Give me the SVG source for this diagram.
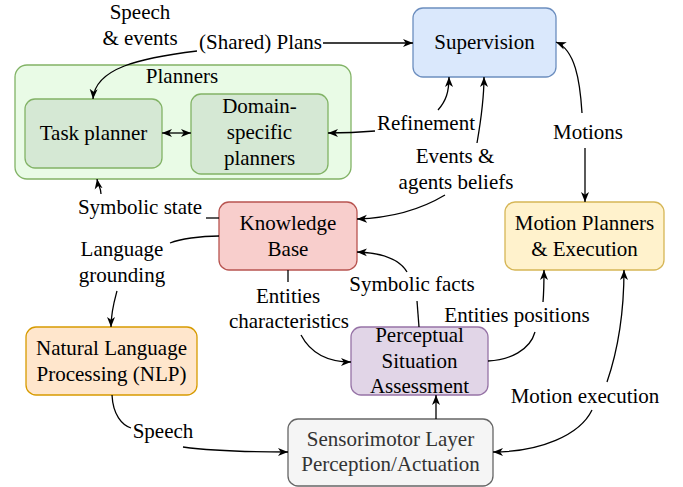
<svg xmlns="http://www.w3.org/2000/svg" width="683" height="487" viewBox="0 0 683 487">
<style>
text{font-family:"Liberation Serif",serif;font-size:21px;fill:#000;text-anchor:middle}
.e{fill:none;stroke:#000;stroke-width:1.3}
.a{marker-end:url(#ar)}
.b{marker-start:url(#ar);marker-end:url(#ar)}
.n{stroke-width:1.3}
</style>
<defs>
<marker id="ar" markerUnits="userSpaceOnUse" markerWidth="11" markerHeight="9" refX="10" refY="4.5" orient="auto-start-reverse" viewBox="0 0 11 9">
<path d="M0,0.5 L10,4.5 L0,8.5 L2.8,4.5 Z" fill="#000"/>
</marker>
</defs>
<rect width="683" height="487" fill="#fff"/>
<g id="planners">
<rect class="n" x="15" y="65" width="336" height="114" rx="12" fill="#e9fbe6" stroke="#82b366"/>
<text x="182" y="83">Planners</text>
</g>
<g id="task-planner">
<rect class="n" x="25" y="99" width="137" height="69" rx="10" fill="#d5e8d4" stroke="#82b366"/>
<text x="93.5" y="140">Task planner</text>
</g>
<g id="domain-planners">
<rect class="n" x="191" y="94" width="137" height="80" rx="10" fill="#d5e8d4" stroke="#82b366"/>
<text x="259.5" y="113">Domain-</text>
<text x="259.5" y="139">specific</text>
<text x="259.5" y="165">planners</text>
</g>
<g id="supervision">
<rect class="n" x="413" y="8" width="143" height="69" rx="10" fill="#dae8fc" stroke="#6c8ebf"/>
<text x="484.5" y="49">Supervision</text>
</g>
<g id="knowledge-base">
<rect class="n" x="219" y="202" width="138" height="68" rx="10" fill="#f8cecc" stroke="#b85450"/>
<text x="288" y="230">Knowledge</text>
<text x="288" y="256">Base</text>
</g>
<g id="motion-planners">
<rect class="n" x="505" y="202" width="159" height="68" rx="10" fill="#fff2cc" stroke="#d6b656"/>
<text x="584.5" y="230">Motion Planners</text>
<text x="584.5" y="256">&amp; Execution</text>
</g>
<g id="nlp">
<rect class="n" x="26" y="327" width="171" height="68" rx="10" fill="#ffe6cc" stroke="#d79b00"/>
<text x="111.5" y="355">Natural Language</text>
<text x="111.5" y="381">Processing (NLP)</text>
</g>
<g id="psa">
<rect class="n" x="351" y="327" width="137" height="68" rx="10" fill="#e1d5e7" stroke="#9673a6"/>
<text x="419.5" y="342">Perceptual</text>
<text x="419.5" y="368">Situation</text>
<text x="419.5" y="393">Assessment</text>
</g>
<g id="sensorimotor">
<rect class="n" x="288" y="419" width="205" height="67" rx="10" fill="#f5f5f5" stroke="#666666"/>
<text x="390.5" y="446" style="fill:#333">Sensorimotor Layer</text>
<text x="390.5" y="471" style="fill:#333">Perception/Actuation</text>
</g>
<g id="connectors">
<path class="e a" d="M323,43 L413,43"/>
<path class="e a" d="M197,51 C140,58 95,68 93,99"/>
<path class="e b" d="M162,133 L191,133"/>
<path class="e a" d="M375,131 Q352,133 328,133"/>
<path class="e a" d="M438,110 C446,101 449,92 449,77"/>
<path class="e a" d="M477,143 C481,120 484,100 484,77"/>
<path class="e a" d="M445,195 C420,210 390,218 357,219"/>
<path class="e a" d="M582,113 C580,80 575,50 556,42"/>
<path class="e a" d="M585,148 L585,202"/>
<path class="e" d="M219,218 L206,218"/>
<path class="e a" d="M101,194 C101,188 98,185 97,179"/>
<path class="e" d="M219,236 C200,236 180,239 170,243"/>
<path class="e a" d="M117,291 C114,302 111,312 111,327"/>
<path class="e" d="M288,270 L288,282"/>
<path class="e a" d="M301,335 C310,352 325,362 351,362"/>
<path class="e" d="M419,327 L417,301"/>
<path class="e a" d="M407,272 C400,260 385,253 357,252"/>
<path class="e" d="M488,361 C510,360 530,350 535,332"/>
<path class="e a" d="M543,302 C544,290 544,282 544,270"/>
<path class="e a" d="M592,410 C580,435 540,452 493,452"/>
<path class="e a" d="M607,382 C618,350 624,310 624,270"/>
<path class="e" d="M112,395 C113,415 122,425 131,428"/>
<path class="e a" d="M183,447 C220,452 260,452 288,452"/>
<path class="e a" d="M436,419 L436,395"/>
</g>
<g id="labels">
<text x="140" y="19">Speech</text>
<text x="140" y="45">&amp; events</text>
<text x="260.5" y="49">(Shared) Plans</text>
<text x="426" y="130">Refinement</text>
<text x="455" y="163">Events &amp;</text>
<text x="456" y="189">agents beliefs</text>
<text x="588" y="139">Motions</text>
<text x="140" y="214">Symbolic state</text>
<text x="122" y="256">Language</text>
<text x="122" y="282">grounding</text>
<text x="288" y="303">Entities</text>
<text x="289" y="328">characteristics</text>
<text x="412" y="291">Symbolic facts</text>
<text x="517" y="322">Entities positions</text>
<text x="585" y="403">Motion execution</text>
<text x="163" y="438">Speech</text>
</g>
</svg>
